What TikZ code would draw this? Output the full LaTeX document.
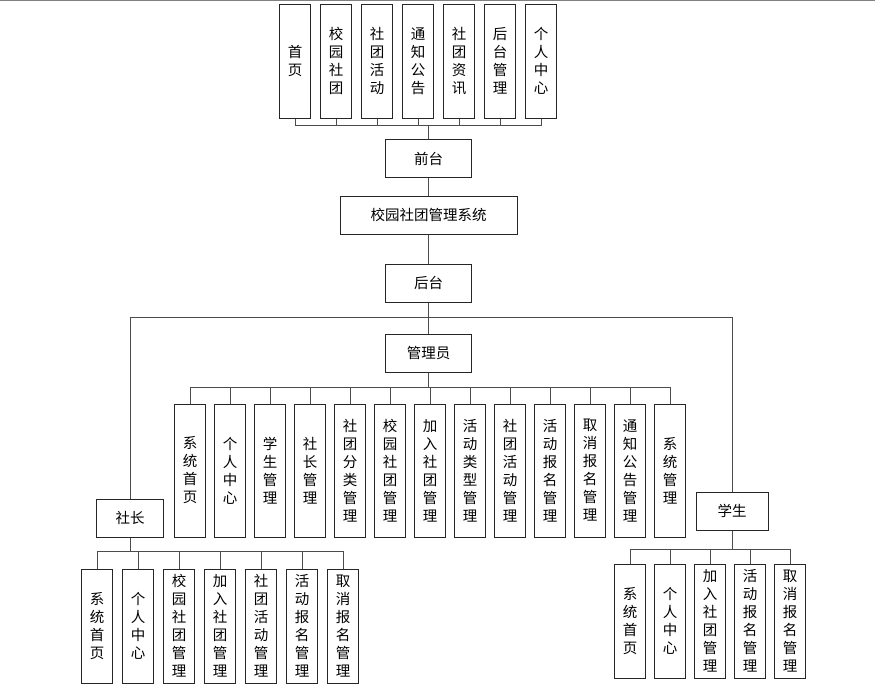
\documentclass[tikz,border=0pt]{standalone}
\usepackage{fontspec}
\newfontfamily\cjk{Noto Sans CJK SC}
\usetikzlibrary{positioning}

\tikzset{
    box/.style={
        draw=black!85,
        line width=1pt,
        inner sep=0pt,
        minimum height=38pt,
        font=\cjk\fontsize{14.5}{18}\selectfont,
        },
    leaf/.style={
        box,
        minimum width=31pt,
        align=center,
        },
    wire/.style={
        draw=black!70,
        line width=1pt,
        },
}

\begin{document}
\begin{tikzpicture}[x=1pt, y=-1pt]

\useasboundingbox (0,0) rectangle (876,686);

% Top edge line
\draw[gray, line width=1pt] (0,0.5) -- (875,0.5);

% Main column
\node[box, minimum width=86pt] (qiantai) at (428.5,158.5) {前台};
\node[box, minimum width=177pt] (xitong) at (428.5,215) {校园社团管理系统};
\node[box, minimum width=86pt] (houtai) at (428.5,283) {后台};
\node[box, minimum width=86pt] (guanliyuan) at (428.5,353) {管理员};
\node[box, minimum width=67pt] (shezhang) at (130,518) {社长};
\node[box, minimum width=72pt] (xuesheng) at (732,511) {学生};

\draw[wire] (qiantai) -- (xitong);
\draw[wire] (xitong) -- (houtai);

% Front pages
\coordinate (topbus) at (428.5,125);
\foreach \txt [count=\i] in {首\\页, 校\\园\\社\\团, 社\\团\\活\\动,
        通\\知\\公\\告, 社\\团\\资\\讯, 后\\台\\管\\理, 个\\人\\中\\心} {
    \node[leaf, minimum height=114pt] (t\i) at ({295+41*(\i-1)},61) {\txt};
    \draw[wire] (t\i.south) |- (topbus);
}
\draw[wire] (topbus) -- (qiantai.north);

% Split below the back end
\coordinate (htbus) at (428.5,317);
\draw[wire] (houtai.south) -- (htbus) -- (guanliyuan.north);
\draw[wire] (htbus) -| (shezhang.north);
\draw[wire] (htbus) -| (xuesheng.north);

% Admin functions
\coordinate (adminbus) at (428.5,387);
\foreach \txt [count=\i] in {系\\统\\首\\页, 个\\人\\中\\心, 学\\生\\管\\理,
        社\\长\\管\\理, 社\\团\\分\\类\\管\\理, 校\\园\\社\\团\\管\\理,
        加\\入\\社\\团\\管\\理, 活\\动\\类\\型\\管\\理, 社\\团\\活\\动\\管\\理,
        活\\动\\报\\名\\管\\理, 取\\消\\报\\名\\管\\理, 通\\知\\公\\告\\管\\理,
        系\\统\\管\\理} {
    \node[leaf, minimum height=133pt] (a\i) at ({190+40*(\i-1)},470.5) {\txt};
    \draw[wire] (a\i.north) |- (adminbus);
}
\draw[wire] (guanliyuan.south) -- (adminbus);

% Club leader functions
\coordinate (szbus) at (130,551.5);
\foreach \txt [count=\i] in {系\\统\\首\\页, 个\\人\\中\\心, 校\\园\\社\\团\\管\\理,
        加\\入\\社\\团\\管\\理, 社\\团\\活\\动\\管\\理, 活\\动\\报\\名\\管\\理,
        取\\消\\报\\名\\管\\理} {
    \node[leaf, minimum height=114pt] (s\i) at ({97+41*(\i-1)},626) {\txt};
    \draw[wire] (s\i.north) |- (szbus);
}
\draw[wire] (shezhang.south) -- (szbus);

% Student functions
\coordinate (xsbus) at (732,549.5);
\foreach \txt [count=\i] in {系\\统\\首\\页, 个\\人\\中\\心, 加\\入\\社\\团\\管\\理,
        活\\动\\报\\名\\管\\理, 取\\消\\报\\名\\管\\理} {
    \node[leaf, minimum height=114pt] (x\i) at ({630+40*(\i-1)},621) {\txt};
    \draw[wire] (x\i.north) |- (xsbus);
}
\draw[wire] (xuesheng.south) -- (xsbus);

\end{tikzpicture}
\end{document}
